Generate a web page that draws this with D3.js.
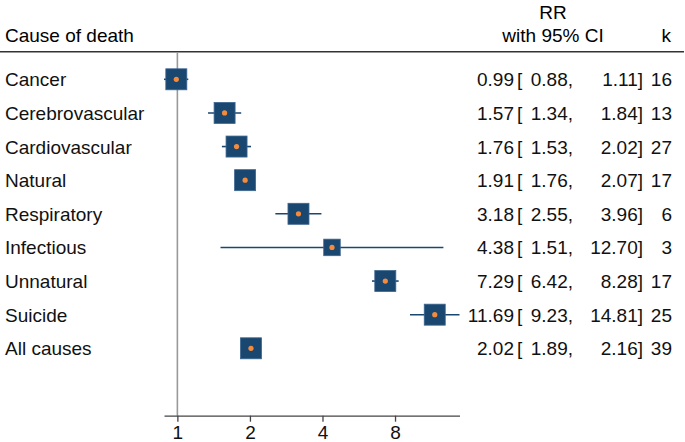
<!DOCTYPE html>
<html>
<head>
<meta charset="utf-8">
<script src="https://cdn.jsdelivr.net/npm/d3@7"></script>
<style>
   body { margin: 0; background: #fff; }
   svg { display: block; font-family: 'Liberation Sans', Arial, sans-serif; }
</style>
</head>
<body>
<div id="container"></div>
<script>
const causes = ['Cancer', 'Cerebrovascular', 'Cardiovascular', 'Natural', 'Respiratory',
   'Infectious', 'Unnatural', 'Suicide', 'All causes'];
const rr = [0.99, 1.57, 1.76, 1.91, 3.18, 4.38, 7.29, 11.69, 2.02];
const lower = [0.88, 1.34, 1.53, 1.76, 2.55, 1.51, 6.42, 9.23, 1.89];
const upper = [1.11, 1.84, 2.02, 2.07, 3.96, 12.70, 8.28, 14.81, 2.16];
const k = [16, 13, 27, 17, 6, 3, 17, 25, 39];
const weights = [1, 1, 1, 1, 1, 0.62, 1, 1, 1];
const xTicks = [1, 2, 4, 8];

document.addEventListener('DOMContentLoaded', function() {
   const w = 685;
   const h = 442;
   const navy = '#1a476f';
   const orange = '#f58a3c';

   const rows = causes.map((c, i) => ({
      cause: c, rr: rr[i], lo: lower[i], hi: upper[i], k: k[i], wt: weights[i]
   }));

   const svg = d3.select('#container')
      .append('svg')
      .attr('width', w)
      .attr('height', h);

   const x = d3.scaleLog()
      .domain([d3.min(lower), d3.max(upper)])
      .range([164, 459.5]);

   const y = d3.scalePoint()
      .domain(causes)
      .range([79.3, 348.3]);

   const size = d3.scaleSqrt()
      .domain([0, 1])
      .range([0, 21]);

   const axisY = 415.7;

   // header
   svg.append('text').attr('x', 5).attr('y', 42).attr('font-size', 19).text('Cause of death');
   svg.append('text').attr('x', 553).attr('y', 19).attr('font-size', 19)
      .attr('text-anchor', 'middle').text('RR');
   svg.append('text').attr('x', 553).attr('y', 42).attr('font-size', 19)
      .attr('text-anchor', 'middle').text('with 95% CI');
   svg.append('text').attr('x', 671).attr('y', 42).attr('font-size', 19)
      .attr('text-anchor', 'end').text('k');
   svg.append('line')
      .attr('x1', 0).attr('x2', 684)
      .attr('y1', 51.8).attr('y2', 51.8)
      .attr('stroke', '#333').attr('stroke-width', 1.6);

   // reference line at RR = 1
   svg.append('line')
      .attr('x1', x(1)).attr('x2', x(1))
      .attr('y1', 53).attr('y2', axisY)
      .attr('stroke', '#999').attr('stroke-width', 1.6);

   // axis
   const axis = svg.append('g')
      .attr('transform', 'translate(0,' + axisY + ')')
      .call(d3.axisBottom(x)
         .tickValues(xTicks)
         .tickFormat(d3.format('d'))
         .tickSize(6)
         .tickSizeOuter(0)
         .tickPadding(4));
   axis.select('.domain').attr('stroke', '#444').attr('stroke-width', 1.3);
   axis.selectAll('.tick line').attr('stroke', '#444').attr('stroke-width', 1.3);
   axis.selectAll('.tick text')
      .attr('font-size', 19)
      .attr('fill', '#111')
      .attr('font-family', "'Liberation Sans', Arial, sans-serif");

   const g = svg.selectAll('g.row')
      .data(rows)
      .enter()
      .append('g')
      .attr('class', 'row');

   g.append('line')
      .attr('x1', d => x(d.lo))
      .attr('x2', d => x(d.hi))
      .attr('y1', d => y(d.cause))
      .attr('y2', d => y(d.cause))
      .attr('stroke', navy)
      .attr('stroke-width', 1.6);

   g.append('rect')
      .attr('x', d => x(d.rr) - size(d.wt) / 2)
      .attr('y', d => y(d.cause) - size(d.wt) / 2)
      .attr('width', d => size(d.wt))
      .attr('height', d => size(d.wt))
      .attr('fill', navy)
      .attr('stroke', '#3c6690')
      .attr('stroke-width', 0.8);

   g.append('circle')
      .attr('cx', d => x(d.rr))
      .attr('cy', d => y(d.cause))
      .attr('r', 2.6)
      .attr('fill', orange);

   const fmt = d3.format('.2f');
   const label = (sel, xp, anchor, fn) => sel.append('text')
      .attr('x', xp)
      .attr('y', d => y(d.cause) + 7)
      .attr('font-size', 19)
      .attr('fill', '#111')
      .attr('text-anchor', anchor)
      .text(fn);

   label(g, 5, 'start', d => d.cause);
   label(g, 514, 'end', d => fmt(d.rr));
   label(g, 517, 'start', () => '[');
   label(g, 573, 'end', d => fmt(d.lo) + ',');
   label(g, 643, 'end', d => fmt(d.hi) + ']');
   label(g, 672, 'end', d => d.k);
});
</script>
</body>
</html>
